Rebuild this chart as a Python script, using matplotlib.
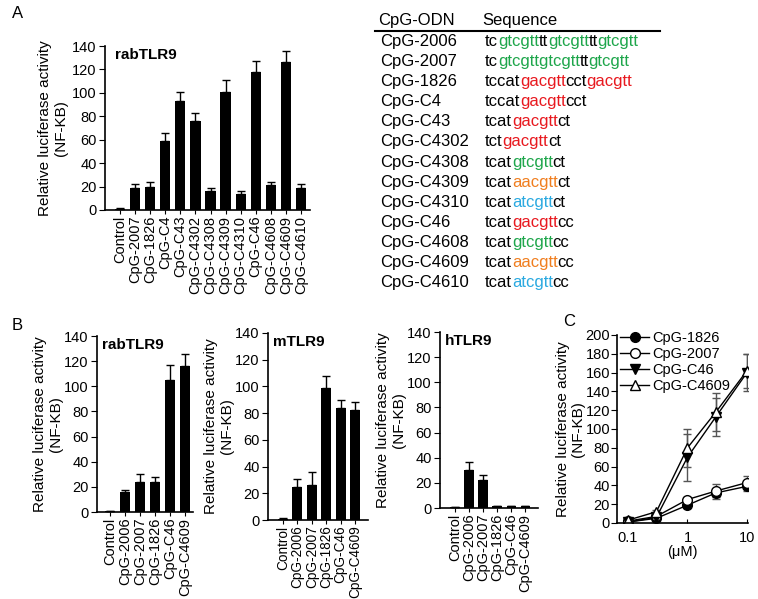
import numpy as np
import matplotlib
matplotlib.use('Agg')
import matplotlib.pyplot as plt
from matplotlib import _text_helpers
from matplotlib.font_manager import FontProperties, findfont, get_font

plt.rcParams['font.family'] = ['Liberation Sans', 'DejaVu Sans']
plt.rcParams['axes.linewidth'] = 1.2

W, H = 758, 599

# panel A data
a_names = ['Control', 'CpG-2007', 'CpG-1826', 'CpG-C4', 'CpG-C43', 'CpG-C4302', 'CpG-C4308',
           'CpG-C4309', 'CpG-C4310', 'CpG-C46', 'CpG-C4608', 'CpG-C4609', 'CpG-C4610']
a_vals = [1, 19, 20, 59, 93, 76, 16, 101, 14, 118, 21, 126, 19]
a_err = [0.5, 3, 3.5, 7, 7.5, 6.5, 3, 10, 2.5, 9, 3, 9.5, 3]

# panel B data
b_names = ['Control', 'CpG-2006', 'CpG-2007', 'CpG-1826', 'CpG-C46', 'CpG-C4609']
rab_vals = [0.5, 16, 24, 24, 105, 116]
rab_err = [0.3, 1.5, 6, 4, 12, 10]
m_vals = [1, 25, 26, 99, 84, 82]
m_err = [0.3, 6, 10, 9, 6, 6]
h_vals = [0.5, 30, 22, 1.5, 1.5, 1.5]
h_err = [0.2, 6.5, 4, 0.3, 0.3, 0.3]

# panel C data
conc = [0.1, 0.3, 1, 3, 10]
c_1826 = [1, 5, 19, 32, 39]
c_1826_err = [1, 1.5, 3, 4, 5]
c_2007 = [2, 7, 25, 34, 43]
c_2007_err = [1, 1.5, 3, 8, 7]
c_c46 = [1, 6, 70, 113, 160]
c_c46_err = [1, 2, 25, 20, 20]
c_c4609 = [3, 12, 80, 118, 162]
c_c4609_err = [1, 2, 20, 20, 18]

# table data
tab_names = ['CpG-2006', 'CpG-2007', 'CpG-1826', 'CpG-C4', 'CpG-C43', 'CpG-C4302', 'CpG-C4308',
             'CpG-C4309', 'CpG-C4310', 'CpG-C46', 'CpG-C4608', 'CpG-C4609', 'CpG-C4610']
tab_seqs = [
    [('tc', 'k'), ('gtcgtt', 'g'), ('tt', 'k'), ('gtcgtt', 'g'), ('tt', 'k'), ('gtcgtt', 'g')],
    [('tc', 'k'), ('gtcgttgtcgtt', 'g'), ('tt', 'k'), ('gtcgtt', 'g')],
    [('tccat', 'k'), ('gacgtt', 'r'), ('cct', 'k'), ('gacgtt', 'r')],
    [('tccat', 'k'), ('gacgtt', 'r'), ('cct', 'k')],
    [('tcat', 'k'), ('gacgtt', 'r'), ('ct', 'k')],
    [('tct', 'k'), ('gacgtt', 'r'), ('ct', 'k')],
    [('tcat', 'k'), ('gtcgtt', 'g'), ('ct', 'k')],
    [('tcat', 'k'), ('aacgtt', 'o'), ('ct', 'k')],
    [('tcat', 'k'), ('atcgtt', 'b'), ('ct', 'k')],
    [('tcat', 'k'), ('gacgtt', 'r'), ('cc', 'k')],
    [('tcat', 'k'), ('gtcgtt', 'g'), ('cc', 'k')],
    [('tcat', 'k'), ('aacgtt', 'o'), ('cc', 'k')],
    [('tcat', 'k'), ('atcgtt', 'b'), ('cc', 'k')],
]
seq_colors = {'k': 'black', 'g': '#1ea64b', 'r': '#e8191f', 'o': '#f07e1f', 'b': '#2aa9e0'}

fig = plt.figure(figsize=(W / 100, H / 100), dpi=100)


def px_axes(left, right, top, bottom):
    return fig.add_axes([left / W, 1 - bottom / H, (right - left) / W, (bottom - top) / H])


def bar_panel(ax, names, vals, err, title, xlim, xsize=10.5, lpad=3):
    x = np.arange(len(names))
    ax.bar(x, vals, width=0.68, color='black')
    ax.errorbar(x, vals, yerr=[np.zeros(len(err)), err], fmt='none', ecolor='black',
                elinewidth=1, capsize=3, capthick=1)
    ax.set_xlim(*xlim)
    ax.set_ylim(0, 140)
    ax.set_yticks(range(0, 141, 20))
    ax.set_xticks(x)
    ax.set_xticklabels(names, rotation=90)
    ax.tick_params(axis='y', direction='out', length=4, labelsize=10.5, pad=2)
    ax.tick_params(axis='x', direction='out', length=3, labelsize=xsize, pad=1)
    ax.spines['top'].set_visible(False)
    ax.spines['right'].set_visible(False)
    ax.set_ylabel('Relative luciferase activity\n(NF-KB)', fontsize=11, labelpad=lpad,
                  linespacing=1.15)
    ax.text(0.05, 0.99, title, transform=ax.transAxes, fontsize=11, fontweight='bold',
            va='top', ha='left')


axA = px_axes(105, 310, 46, 210)
bar_panel(axA, a_names, a_vals, a_err, 'rabTLR9', (-1, 12.6))

axB1 = px_axes(97, 193, 336, 512)
bar_panel(axB1, b_names, rab_vals, rab_err, 'rabTLR9', (-0.87, 5.53), lpad=1)
axB2 = px_axes(268, 368, 333, 520)
bar_panel(axB2, b_names, m_vals, m_err, 'mTLR9', (-1.04, 5.9), xsize=9.8, lpad=1)
axB3 = px_axes(440, 538, 332, 508)
bar_panel(axB3, b_names, h_vals, h_err, 'hTLR9', (-1.07, 5.9), lpad=1)

# panel C
axC = px_axes(617, 748, 335, 523)
series = [
    ('CpG-1826', c_1826, c_1826_err, 'o', 'black'),
    ('CpG-2007', c_2007, c_2007_err, 'o', 'white'),
    ('CpG-C46', c_c46, c_c46_err, 'v', 'black'),
    ('CpG-C4609', c_c4609, c_c4609_err, '^', 'white'),
]
for name, vals, err, mk, fc in series:
    axC.errorbar(conc, vals, yerr=err, fmt='none', ecolor='#555555', elinewidth=1,
                 capsize=3, capthick=1)
for name, vals, err, mk, fc in series:
    axC.plot(conc, vals, color='black', lw=1, marker=mk, markersize=7,
             markerfacecolor=fc, markeredgecolor='black', label=name)
axC.set_xscale('log')
axC.set_xlim(0.0653, 10.4)
axC.set_ylim(0, 200)
axC.set_yticks(range(0, 201, 20))
axC.set_xticks([0.1, 1, 10])
axC.set_xticklabels(['0.1', '1', '10'])
axC.minorticks_off()
axC.tick_params(axis='y', direction='out', length=4, labelsize=10.5, pad=1)
axC.tick_params(axis='x', direction='in', length=3, labelsize=10.5, pad=6)
axC.spines['top'].set_visible(False)
axC.spines['right'].set_visible(False)
axC.set_xlabel('(\u03bcM)', fontsize=10.5, labelpad=0)
axC.set_ylabel('Relative luciferase activity\n(NF-KB)', fontsize=11, labelpad=0,
               linespacing=1.15)
axC.legend(loc='upper left', bbox_to_anchor=(-0.02, 1.05), frameon=False, fontsize=10.5,
           handlelength=2.0, handletextpad=0.2, labelspacing=0.12, borderaxespad=0)

# panel letters
fig.text(12 / W, 1 - 13 / H, 'A', fontsize=12, ha='left', va='center')
fig.text(12 / W, 1 - 325 / H, 'B', fontsize=12, ha='left', va='center')
fig.text(563 / W, 1 - 322 / H, 'C', fontsize=12, ha='left', va='center')

# sequence table
fig.text(378 / W, 1 - 20 / H, 'CpG-ODN', fontsize=12, ha='left', va='center')
fig.text(482 / W, 1 - 20 / H, 'Sequence', fontsize=12, ha='left', va='center')
fig.add_artist(plt.Line2D([375 / W, 660 / W], [1 - 31 / H, 1 - 31 / H], color='black', lw=1.5))

# glyph pen positions of the whole sequence, so coloured pieces join up
seq_font = get_font(findfont(FontProperties(family='Liberation Sans')))
seq_font.set_size(12, 100)

for i, (nm, segs) in enumerate(zip(tab_names, tab_seqs)):
    y = 1 - (41.5 + 20.1 * i) / H
    fig.text(380 / W, y, nm, fontsize=12, ha='left', va='center')
    full = ''.join(s for s, c in segs)
    pen = [item.x for item in _text_helpers.layout(full, seq_font)]
    x0 = 485
    k = 0
    for s, c in segs:
        fig.text((x0 + pen[k]) / W, y, s, fontsize=12, ha='left', va='center',
                 color=seq_colors[c])
        k += len(s)

fig.savefig('out.png', dpi=100)
